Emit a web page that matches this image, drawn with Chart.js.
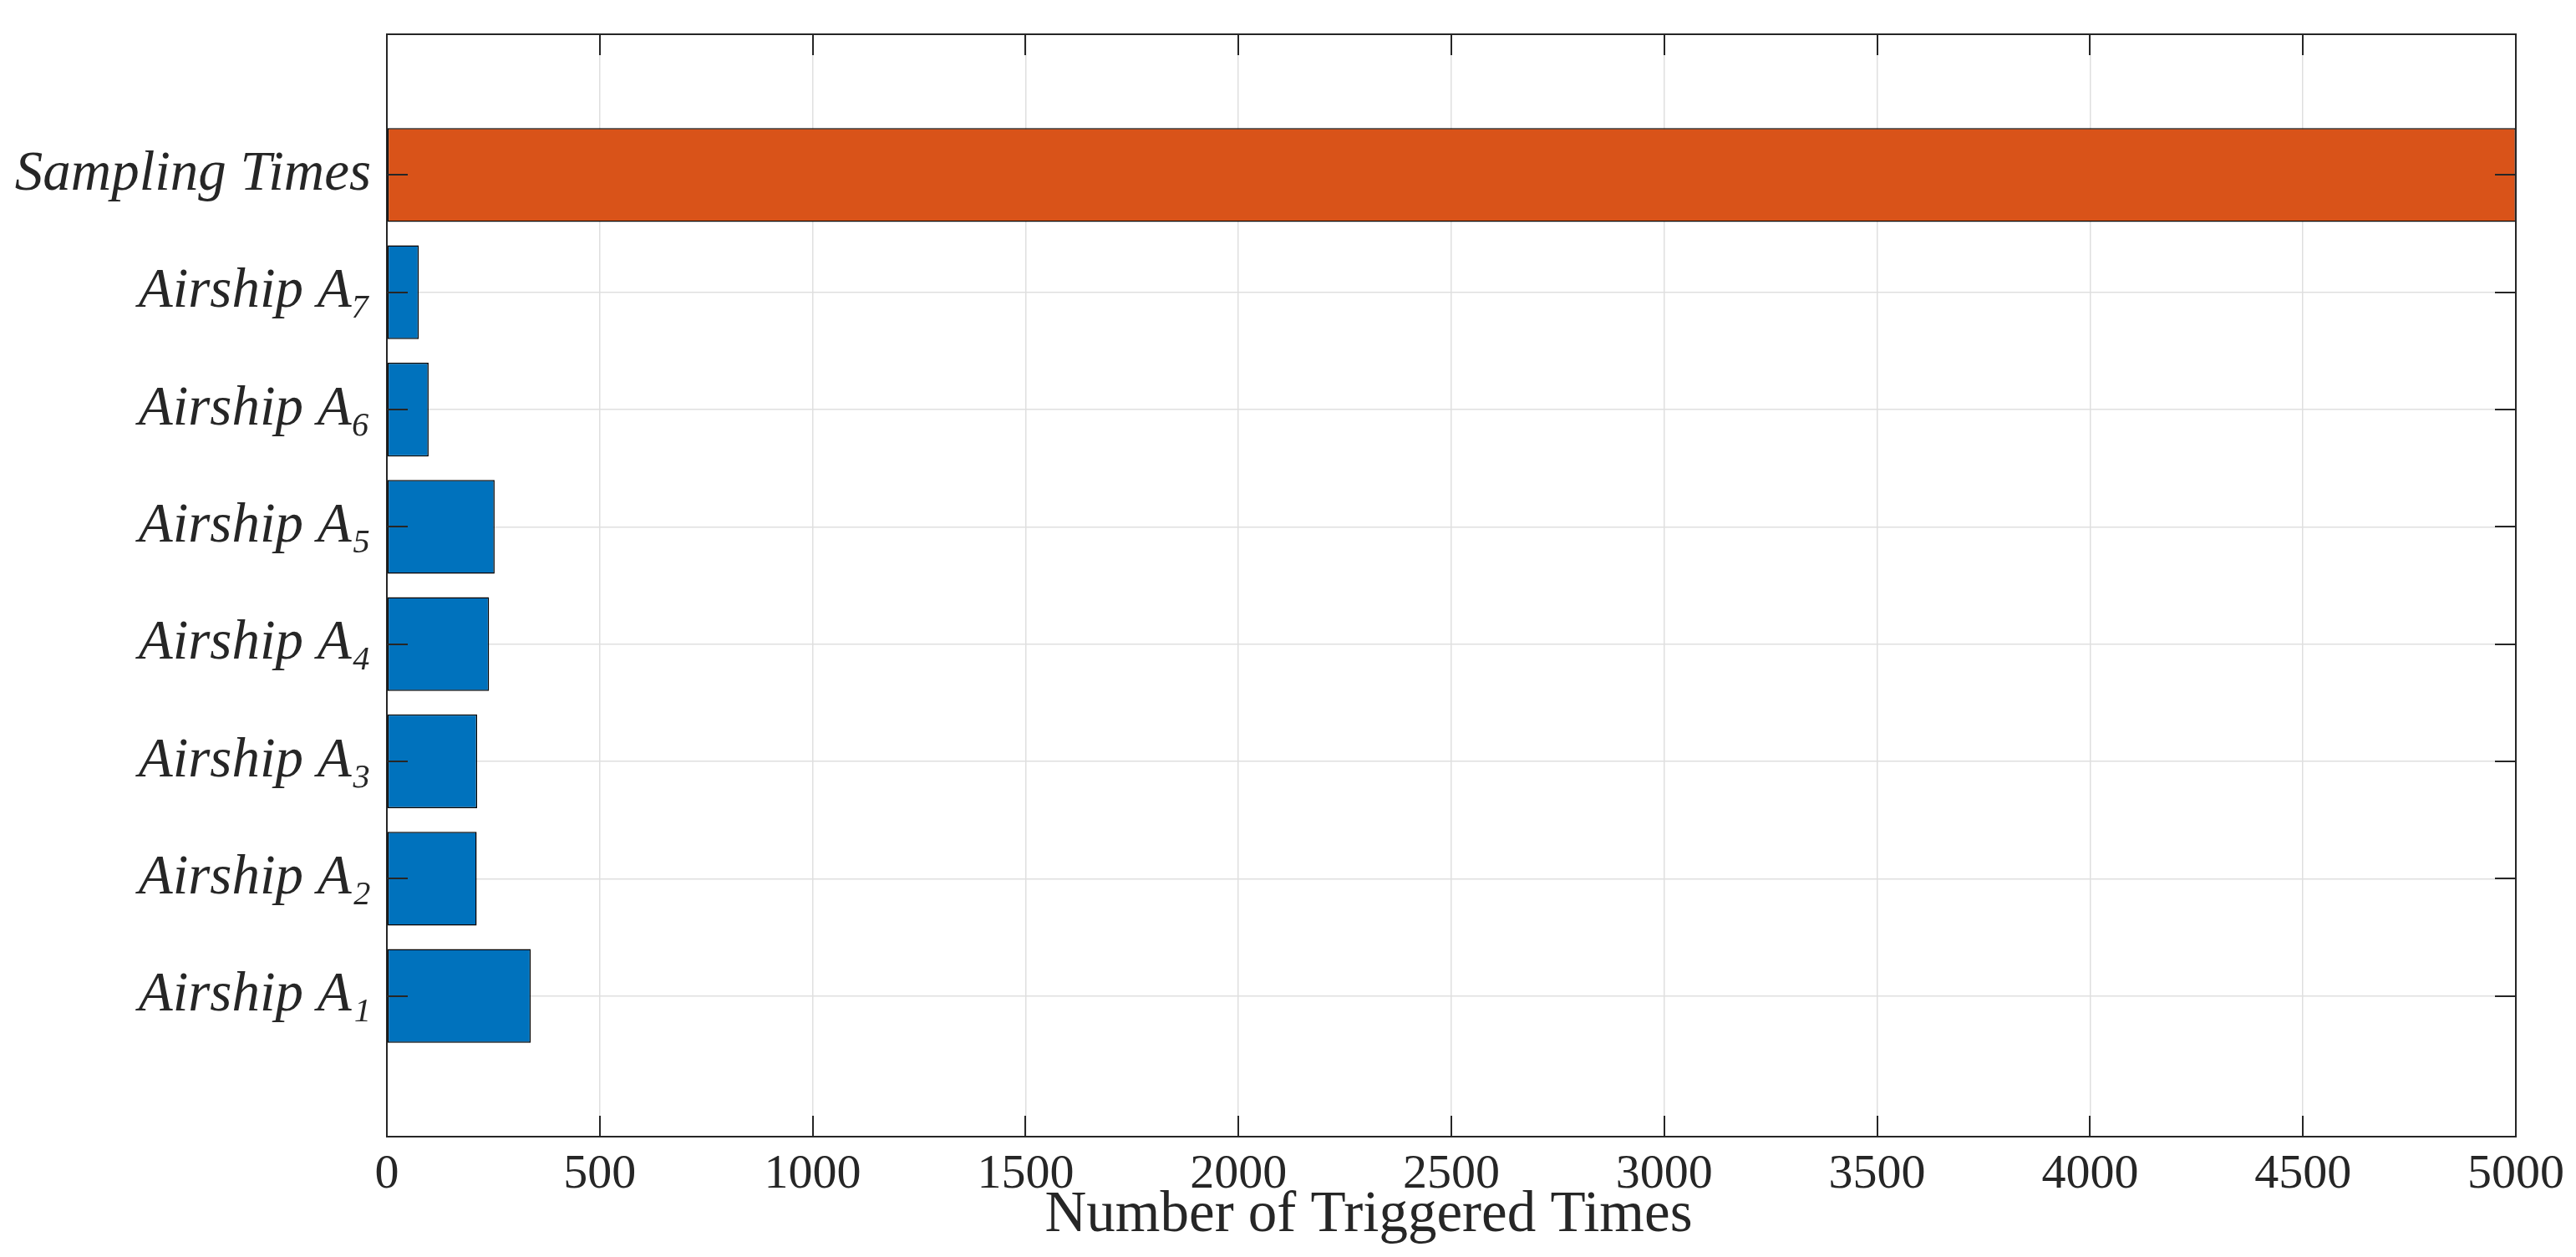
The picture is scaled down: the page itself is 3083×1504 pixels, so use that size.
<!DOCTYPE html>
<html><head><meta charset="utf-8">
<script src="https://cdn.jsdelivr.net/npm/chart.js@4.4.0/dist/chart.umd.min.js"></script>
<style>html,body{margin:0;padding:0;background:#fff;overflow:hidden}</style>
</head><body>
<canvas id="c" width="3083" height="1504"></canvas>
<script>
const categories = ['Airship A\u2081','Airship A\u2082','Airship A\u2083','Airship A\u2084','Airship A\u2085','Airship A\u2086','Airship A\u2087','Sampling Times'];
const triggeredCounts = [338, 211, 212, 240, 253, 98, 75, 5000];
const barColors = ['#0072BD','#0072BD','#0072BD','#0072BD','#0072BD','#0072BD','#0072BD','#D95319'];
const xTickValues = [0, 500, 1000, 1500, 2000, 2500, 3000, 3500, 4000, 4500, 5000];
const xTitle = 'Number of Triggered Times';

const AXIS = '#262626';
const frame = {
  id: 'frame',
  afterLayout(chart) {
    // widen the label clip regions so long labels are not cut
    chart.scales.y.left = 0;
    chart.scales.x.bottom = chart.height;
  },
  afterDatasetsDraw(chart) {
    const {ctx, chartArea: a, scales: {x, y}} = chart;
    ctx.save();
    ctx.strokeStyle = AXIS;
    ctx.lineWidth = 2;
    ctx.beginPath();
    x.ticks.forEach(t => {
      const p = Math.round(x.getPixelForValue(t.value));
      ctx.moveTo(p, a.bottom); ctx.lineTo(p, a.bottom - 25);
      ctx.moveTo(p, a.top); ctx.lineTo(p, a.top + 25);
    });
    y.ticks.forEach(t => {
      const p = Math.round(y.getPixelForValue(t.value));
      ctx.moveTo(a.left, p); ctx.lineTo(a.left + 25, p);
      ctx.moveTo(a.right, p); ctx.lineTo(a.right - 25, p);
    });
    ctx.stroke();
    ctx.strokeRect(a.left, a.top, a.right - a.left, a.bottom - a.top);
    ctx.restore();
  }
};

new Chart(document.getElementById('c'), {
  type: 'bar',
  data: {
    datasets: [{
      data: triggeredCounts.map((v, i) => ({x: v, y: i + 1})),
      backgroundColor: barColors,
      borderColor: '#000000',
      borderWidth: 1.5,
      borderSkipped: false,
      barPercentage: 0.8,
      categoryPercentage: 1.0
    }]
  },
  options: {
    responsive: false,
    animation: false,
    devicePixelRatio: 1,
    indexAxis: 'y',
    layout: {padding: {top: 41, right: 72, left: 265, bottom: 15}},
    plugins: {
      legend: {display: false},
      tooltip: {enabled: false},
      title: {
        display: true, position: 'bottom', text: xTitle, color: AXIS,
        font: {family: 'Liberation Serif', size: 69, weight: 'normal', lineHeight: 1},
        padding: {top: 0, bottom: 0}
      }
    },
    scales: {
      x: {
        type: 'linear', position: 'bottom', min: 0, max: 5000,
        afterBuildTicks: s => { s.ticks = xTickValues.map(v => ({value: v})); },
        afterFit: s => { s.height = 60; s.paddingLeft = 0; s.paddingRight = 0; },
        grid: {color: '#dfdfdf', lineWidth: 1.5, drawTicks: false},
        border: {display: false},
        ticks: {color: AXIS, padding: 11, maxRotation: 0, autoSkip: false,
                callback: v => String(v),
                font: {family: 'Liberation Serif', size: 58}}
      },
      y: {
        type: 'linear', position: 'left', min: -0.2, max: 9.2, offset: false,
        afterBuildTicks: s => { s.ticks = categories.map((c, i) => ({value: i + 1})); },
        afterFit: s => { s.width = 198; s.paddingTop = 0; s.paddingBottom = 0; },
        grid: {color: '#dfdfdf', lineWidth: 1.5, drawTicks: false, offset: false},
        border: {display: false},
        ticks: {color: AXIS, padding: 19, autoSkip: false,
                callback: v => categories[Math.round(v) - 1],
                font: {family: 'Liberation Serif', size: 67, style: 'italic'}}
      }
    }
  },
  plugins: [frame]
});
</script>
</body></html>
